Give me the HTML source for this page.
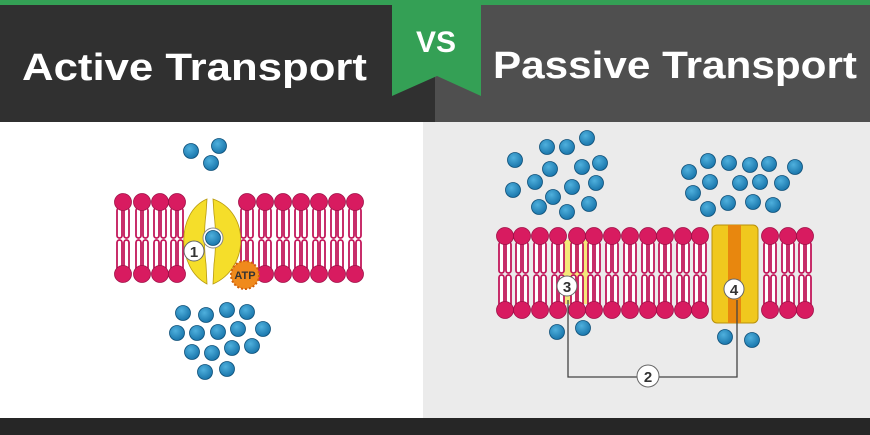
<!DOCTYPE html>
<html><head><meta charset="utf-8"><style>html,body{margin:0;padding:0;width:870px;height:435px;overflow:hidden}</style></head><body>
<svg width="870" height="435" xmlns="http://www.w3.org/2000/svg">
<defs>
<g id="lipL">
<rect x="-6" y="6" width="5" height="30" rx="2.5" fill="#fff" stroke="#c2185b" stroke-width="1.8"/>
<rect x="1" y="6" width="5" height="30" rx="2.5" fill="#fff" stroke="#c2185b" stroke-width="1.8"/>
<rect x="-6" y="38" width="5" height="30" rx="2.5" fill="#fff" stroke="#c2185b" stroke-width="1.8"/>
<rect x="1" y="38" width="5" height="30" rx="2.5" fill="#fff" stroke="#c2185b" stroke-width="1.8"/>
<circle cx="0" cy="0" r="8.5" fill="#d81b60" stroke="#a01048" stroke-width="0.8"/>
<circle cx="0" cy="72" r="8.5" fill="#d81b60" stroke="#a01048" stroke-width="0.8"/>
</g>
<g id="lipR">
<rect x="-6" y="6" width="5" height="31" rx="2.5" fill="#fff" stroke="#c2185b" stroke-width="1.8"/>
<rect x="1" y="6" width="5" height="31" rx="2.5" fill="#fff" stroke="#c2185b" stroke-width="1.8"/>
<rect x="-6" y="39" width="5" height="31" rx="2.5" fill="#fff" stroke="#c2185b" stroke-width="1.8"/>
<rect x="1" y="39" width="5" height="31" rx="2.5" fill="#fff" stroke="#c2185b" stroke-width="1.8"/>
<circle cx="0" cy="0" r="8.5" fill="#d81b60" stroke="#a01048" stroke-width="0.8"/>
<circle cx="0" cy="74" r="8.5" fill="#d81b60" stroke="#a01048" stroke-width="0.8"/>
</g>
<radialGradient id="bg" cx="0.4" cy="0.35" r="0.7"><stop offset="0" stop-color="#4fb0dd"/><stop offset="1" stop-color="#1672a8"/></radialGradient>
<circle id="p" r="7.5" fill="url(#bg)" stroke="#0d4f78" stroke-width="0.8"/>
</defs>
<rect width="870" height="435" fill="#fff"/>
<rect x="0" y="0" width="435" height="122" fill="#303030"/>
<rect x="435" y="0" width="435" height="122" fill="#4f4f4f"/>
<rect x="0" y="0" width="870" height="5" fill="#34a055"/>
<rect x="423" y="122" width="447" height="296" fill="#ebebeb"/>
<rect x="0" y="418" width="870" height="17" fill="#262626"/>
<polygon points="392,0 481,0 481,96 437,76 392,96" fill="#34a055"/>
<text x="436" y="52" font-family="Liberation Sans, sans-serif" font-weight="bold" font-size="30" fill="#fff" text-anchor="middle">VS</text>
<text x="22" y="80" font-family="Liberation Sans, sans-serif" font-weight="bold" font-size="38" fill="#fff" textLength="345" lengthAdjust="spacingAndGlyphs">Active Transport</text>
<text x="493" y="78" font-family="Liberation Sans, sans-serif" font-weight="bold" font-size="38" fill="#fff" textLength="364" lengthAdjust="spacingAndGlyphs">Passive Transport</text>

<g transform="translate(0,202)">
<use href="#lipL" x="123"/><use href="#lipL" x="142"/><use href="#lipL" x="160"/><use href="#lipL" x="177"/>
<use href="#lipL" x="247"/><use href="#lipL" x="265"/><use href="#lipL" x="283"/><use href="#lipL" x="301"/><use href="#lipL" x="319"/><use href="#lipL" x="337"/><use href="#lipL" x="355"/>
</g>
<path d="M207,199 C176,212 176,268 207,284 L206,264 C204,250 204,228 206,214 Z" fill="#f5de2a" stroke="#b89a10" stroke-width="0.8"/>
<path d="M213,199 C250,212 250,268 213,284 L214,264 C216,250 216,228 214,214 Z" fill="#f5de2a" stroke="#b89a10" stroke-width="0.8"/>
<circle cx="213" cy="238" r="10" fill="#fff" stroke="#888"/>
<use href="#p" x="213" y="238"/>
<circle cx="194" cy="251" r="10" fill="#fff" stroke="#666"/>
<text x="194" y="257" font-family="Liberation Sans, sans-serif" font-weight="bold" font-size="15" fill="#333" text-anchor="middle">1</text>
<circle cx="245" cy="275" r="14" fill="#f08a1c" stroke="#d0600a" stroke-width="2" stroke-dasharray="2 2"/>
<text x="245" y="279" font-family="Liberation Sans, sans-serif" font-weight="bold" font-size="11" fill="#333" text-anchor="middle">ATP</text>
<g>
<use href="#p" x="191" y="151"/><use href="#p" x="219" y="146"/><use href="#p" x="211" y="163"/>
<use href="#p" x="183" y="313"/><use href="#p" x="206" y="315"/><use href="#p" x="227" y="310"/><use href="#p" x="247" y="312"/>
<use href="#p" x="177" y="333"/><use href="#p" x="197" y="333"/><use href="#p" x="218" y="332"/><use href="#p" x="238" y="329"/><use href="#p" x="263" y="329"/>
<use href="#p" x="192" y="352"/><use href="#p" x="212" y="353"/><use href="#p" x="232" y="348"/><use href="#p" x="252" y="346"/>
<use href="#p" x="205" y="372"/><use href="#p" x="227" y="369"/>
</g>

<rect x="563" y="240" width="25" height="64" fill="#f5e87a"/>
<g transform="translate(0,236)">
<use href="#lipR" x="505"/><use href="#lipR" x="522"/><use href="#lipR" x="540"/><use href="#lipR" x="558"/><use href="#lipR" x="577"/><use href="#lipR" x="594"/><use href="#lipR" x="612"/><use href="#lipR" x="630"/><use href="#lipR" x="648"/><use href="#lipR" x="665"/><use href="#lipR" x="683"/><use href="#lipR" x="700"/>
<use href="#lipR" x="770"/><use href="#lipR" x="788"/><use href="#lipR" x="805"/>
</g>
<rect x="712" y="225" width="46" height="98" rx="5" fill="#f0c81e" stroke="#b8900a"/>
<rect x="728" y="225" width="13" height="98" fill="#e8870e"/>
<polyline points="568,300 568,377 737,377 737,300" fill="none" stroke="#444" stroke-width="1.3"/>
<circle cx="567" cy="286" r="10" fill="#fff" stroke="#666"/>
<text x="567" y="292" font-family="Liberation Sans, sans-serif" font-weight="bold" font-size="15" fill="#333" text-anchor="middle">3</text>
<circle cx="734" cy="289" r="10" fill="#fff" stroke="#666"/>
<text x="734" y="295" font-family="Liberation Sans, sans-serif" font-weight="bold" font-size="15" fill="#333" text-anchor="middle">4</text>
<circle cx="648" cy="376" r="11" fill="#fff" stroke="#666"/>
<text x="648" y="382" font-family="Liberation Sans, sans-serif" font-weight="bold" font-size="15" fill="#333" text-anchor="middle">2</text>
<g>
<use href="#p" x="587" y="138"/><use href="#p" x="547" y="147"/><use href="#p" x="567" y="147"/><use href="#p" x="515" y="160"/><use href="#p" x="550" y="169"/><use href="#p" x="582" y="167"/><use href="#p" x="600" y="163"/><use href="#p" x="535" y="182"/><use href="#p" x="572" y="187"/><use href="#p" x="596" y="183"/><use href="#p" x="513" y="190"/><use href="#p" x="553" y="197"/><use href="#p" x="539" y="207"/><use href="#p" x="567" y="212"/><use href="#p" x="589" y="204"/>
<use href="#p" x="708" y="161"/><use href="#p" x="729" y="163"/><use href="#p" x="750" y="165"/><use href="#p" x="769" y="164"/><use href="#p" x="795" y="167"/><use href="#p" x="689" y="172"/><use href="#p" x="710" y="182"/><use href="#p" x="740" y="183"/><use href="#p" x="760" y="182"/><use href="#p" x="782" y="183"/><use href="#p" x="693" y="193"/><use href="#p" x="728" y="203"/><use href="#p" x="753" y="202"/><use href="#p" x="773" y="205"/><use href="#p" x="708" y="209"/>
<use href="#p" x="557" y="332"/><use href="#p" x="583" y="328"/><use href="#p" x="725" y="337"/><use href="#p" x="752" y="340"/>
</g>
</svg>
</body></html>
